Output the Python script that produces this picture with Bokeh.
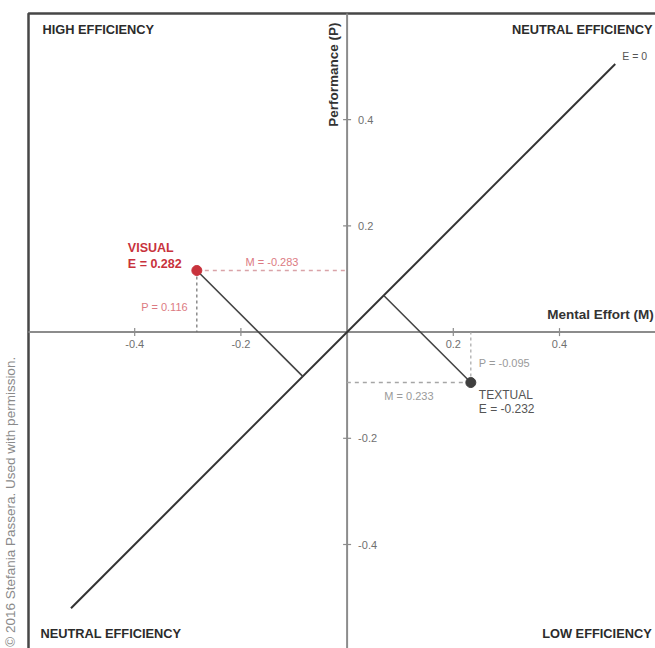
import numpy as np
from bokeh.plotting import figure
from bokeh.models import Range1d
from bokeh.core.properties import value
from bokeh.embed import file_html
from bokeh.resources import INLINE

# Standardised mental effort (M), performance (P) and efficiency (E) per condition
conditions = ["VISUAL", "TEXTUAL"]
effort = [-0.283, 0.233]
performance = [0.116, -0.095]
efficiency = [0.282, -0.232]

tick_values = [-0.4, -0.2, 0.2, 0.4]
tick_labels = ["-0.4", "-0.2", "0.2", "0.4"]

quadrant_names = ["HIGH EFFICIENCY", "NEUTRAL EFFICIENCY",
                  "NEUTRAL EFFICIENCY", "LOW EFFICIENCY"]

# E = 0 reference line extent
neutral_line = [-0.52, 0.505]

# ---- layout: pixel geometry of the canvas ----
W, H = 655, 648
PX = 531.0                 # pixels per unit on both axes
ORIGIN = (346.6, 331.6)    # pixel position of (0, 0) from top-left
LIM = 0.6                  # half-width of the framed plotting square

x0 = -ORIGIN[0] / PX
x1 = (W - ORIGIN[0]) / PX
y1 = ORIGIN[1] / PX
y0 = -(H - ORIGIN[1]) / PX

FONT = value("Liberation Sans")

p = figure(width=W, height=H, x_range=Range1d(x0, x1), y_range=Range1d(y0, y1),
           output_backend="svg", toolbar_location=None,
           x_axis_location=None, y_axis_location=None,
           min_border=0, min_border_left=0, min_border_right=0,
           min_border_top=0, min_border_bottom=0)
p.grid.visible = False
p.outline_line_color = None
p.background_fill_color = "white"
p.border_fill_color = "white"

# frame
p.quad(left=-LIM, right=LIM, bottom=-LIM, top=LIM, fill_color=None,
       line_color="#474747", line_width=2.5)

# axes through the origin
p.segment(x0=[-LIM, 0], y0=[0, -LIM], x1=[LIM, 0], y1=[0, LIM],
          line_color="#8c8c8c", line_width=2)

# tick marks
zeros = [0] * len(tick_values)
p.scatter(x=tick_values, y=zeros, marker="dash", angle=np.pi / 2, size=8,
          line_color="#8c8c8c", line_width=1.2)
p.scatter(x=zeros, y=tick_values, marker="dash", size=8,
          line_color="#8c8c8c", line_width=1.2)

# tick labels
p.text(x=tick_values, y=zeros, text=tick_labels, text_font=FONT,
       text_font_size="11px", text_color="#707070", text_align="center",
       text_baseline="middle", y_offset=12)
p.text(x=zeros, y=tick_values, text=tick_labels, text_font=FONT,
       text_font_size="11px", text_color="#707070", text_align="left",
       text_baseline="middle", x_offset=11)

# axis titles
p.text(x=[0], y=[LIM], text=["Performance (P)"], text_font=FONT,
       text_font_size="13.5px", text_font_style="bold", text_color="#333333",
       angle=np.pi / 2, text_align="right", text_baseline="middle",
       x_offset=-14, y_offset=9)
p.text(x=[LIM], y=[0], text=["Mental Effort (M)"], text_font=FONT,
       text_font_size="13.5px", text_font_style="bold", text_color="#333333",
       text_align="right", text_baseline="middle", x_offset=-12, y_offset=-18)

# E = 0 line
p.line(x=neutral_line, y=neutral_line, line_color="#333333", line_width=2)
p.text(x=[neutral_line[1]], y=[neutral_line[1]], text=["E = 0"], text_font=FONT,
       text_font_size="10.5px", text_color="#555555", text_align="left",
       text_baseline="middle", x_offset=7, y_offset=-8)

# quadrant names
qx = [-LIM, LIM, -LIM, LIM]
qy = [LIM, LIM, -LIM, -LIM]
qxo = [14, -13, 12, -14]
qyo = [16, 16, -17, -17]
qal = ["left", "right", "left", "right"]
for name, x, y, xo, yo, al in zip(quadrant_names, qx, qy, qxo, qyo, qal):
    p.text(x=[x], y=[y], text=[name], text_font=FONT, text_font_size="12.8px",
           text_font_style="bold", text_color="#2b2b2b", text_align=al,
           text_baseline="middle", x_offset=xo, y_offset=yo)

# per-condition styling
point_color = ["#c8323c", "#3f3f3f"]
name_color = ["#c8323c", "#555555"]
name_weight = ["bold", "normal"]
guide_color = ["#d9a3a8", "#a6a6a6"]
drop_color = ["#6e6e6e", "#a6a6a6"]
guide_text = ["#dc7a82", "#9a9a9a"]

for i, cond in enumerate(conditions):
    m, pf, e = effort[i], performance[i], efficiency[i]
    foot = (m + pf) / 2.0

    # perpendicular to the E = 0 line
    p.line(x=[m, foot], y=[pf, foot], line_color="#444444", line_width=1.6)

    # dashed guides to the axes
    p.line(x=[m, 0], y=[pf, pf], line_color=guide_color[i], line_width=1.4,
           line_dash="4 4")
    p.line(x=[m, m], y=[pf, 0], line_color=drop_color[i], line_width=1.2,
           line_dash="3 3")

    p.scatter(x=[m], y=[pf], size=10, fill_color=point_color[i],
              line_color=point_color[i])

    m_lab = f"M = {m:.3f}"
    p_lab = f"P = {pf:.3f}"
    e_lab = f"E = {e:.3f}"

    above = pf > 0
    p.text(x=[m / 2], y=[pf], text=[m_lab], text_font=FONT,
           text_font_size="11px", text_color=guide_text[i],
           text_align="center", text_baseline="middle",
           y_offset=-9 if above else 13)
    p.text(x=[m], y=[pf / 2], text=[p_lab], text_font=FONT,
           text_font_size="11px", text_color=guide_text[i],
           text_align="right" if m < 0 else "left", text_baseline="middle",
           x_offset=-9 if m < 0 else 8, y_offset=6)

    if m < 0:
        p.text(x=[m, m], y=[pf, pf], text=[cond, e_lab], text_font=FONT,
               text_font_size="12.5px", text_font_style=name_weight[i],
               text_color=name_color[i], text_align="left",
               text_baseline="middle", x_offset=-69, y_offset=[-23, -7])
    else:
        p.text(x=[m, m], y=[pf, pf], text=[cond, e_lab], text_font=FONT,
               text_font_size="12px", text_font_style=name_weight[i],
               text_color=name_color[i], text_align="left",
               text_baseline="middle", x_offset=8, y_offset=[12, 26])

# credit line along the left margin
p.text(x=[-LIM], y=[-LIM], text=["\u00a9 2016 Stefania Passera. Used with permission."],
       text_font=FONT, text_font_size="13.5px", text_color="#8a8a8a",
       angle=np.pi / 2, text_align="left", text_baseline="middle",
       x_offset=-18, y_offset=-4)

open("out.html", "w").write(file_html(p, INLINE))
